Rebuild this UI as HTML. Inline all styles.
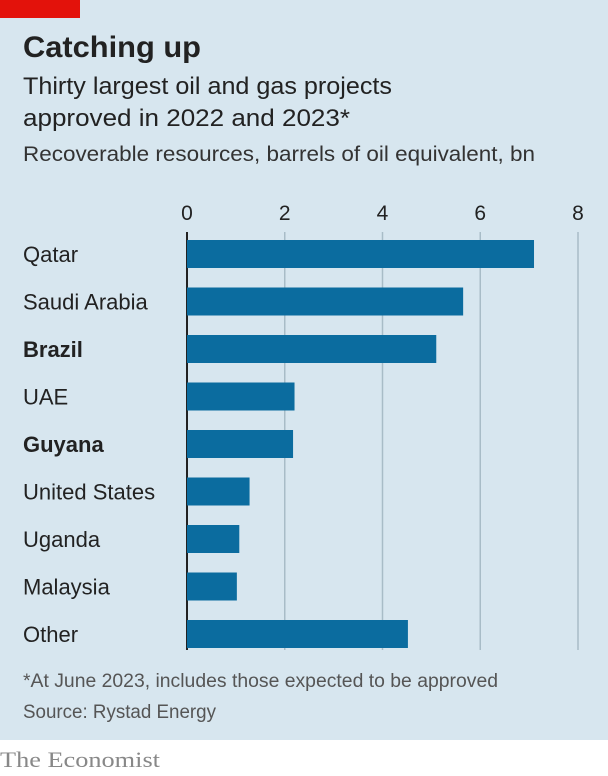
<!DOCTYPE html>
<html><head><meta charset="utf-8"><style>
html,body{margin:0;padding:0;width:608px;height:776px;overflow:hidden;background:#fff}
svg{display:block;font-family:"Liberation Sans",sans-serif}
</style></head><body>
<svg id="c" width="608" height="776">
<rect x="0" y="0" width="608" height="740" fill="#d7e6ef"/>
<rect x="0" y="0" width="80" height="18" fill="#e3120b"/>
<text x="23" y="57" font-size="30" font-weight="bold" fill="#222" textLength="178" lengthAdjust="spacingAndGlyphs">Catching up</text>
<text x="23" y="94" font-size="24" fill="#222" textLength="369" lengthAdjust="spacingAndGlyphs">Thirty largest oil and gas projects</text>
<text x="23" y="126" font-size="24" fill="#222" textLength="327" lengthAdjust="spacingAndGlyphs">approved in 2022 and 2023*</text>
<text x="23" y="161" font-size="21" fill="#333" textLength="512" lengthAdjust="spacingAndGlyphs">Recoverable resources, barrels of oil equivalent, bn</text>
<g id="grid"></g><g id="bars"></g><g id="labels"></g>
<text x="23" y="687" font-size="19" fill="#555" textLength="475" lengthAdjust="spacingAndGlyphs">*At June 2023, includes those expected to be approved</text>
<text x="23" y="718" font-size="19" fill="#555" textLength="193" lengthAdjust="spacingAndGlyphs">Source: Rystad Energy</text>
<text x="0" y="767" font-size="22" fill="#888" font-family="Liberation Serif, serif" textLength="160" lengthAdjust="spacingAndGlyphs">The Economist</text>
</svg>
<script>
const categories=["Qatar","Saudi Arabia","Brazil","UAE","Guyana","United States","Uganda","Malaysia","Other"];
const values=[7.1,5.65,5.1,2.2,2.17,1.28,1.07,1.02,4.52];
const boldCats=["Brazil","Guyana"];
const ticks=[0,2,4,6,8];
const NS="http://www.w3.org/2000/svg";
const x=v=>187+v*(578-187)/8;
const y=i=>254+i*47.5;
function mk(p,t,a){const e=document.createElementNS(NS,t);for(const k in a)e.setAttribute(k,a[k]);p.appendChild(e);return e;}
const G=document.getElementById('grid'),B=document.getElementById('bars'),L=document.getElementById('labels');
ticks.forEach(t=>{
 if(t>0){const l=mk(G,'line',{x1:x(t),x2:x(t),y1:232,y2:650,stroke:'#a8bcc7','stroke-width':1.5});
 
 }
 const tx=mk(G,'text',{x:x(t),y:220,'font-size':21,'text-anchor':'middle',fill:'#222'});tx.textContent=t;
 
 
});
categories.forEach((c,i)=>{
 const r=mk(B,'rect',{x:x(0),y:y(i)-14,width:x(values[i])-x(0),height:28,fill:'#0b6c9f'});
 
 
 const t=mk(L,'text',{x:23,y:y(i)+8,'font-size':22,fill:'#222','font-weight':boldCats.includes(c)?'bold':'normal'});t.textContent=c;
 
 
});
const ax=mk(G,'line',{x1:x(0),x2:x(0),y1:232,y2:650,stroke:'#222','stroke-width':2});


</script>
</body></html>
